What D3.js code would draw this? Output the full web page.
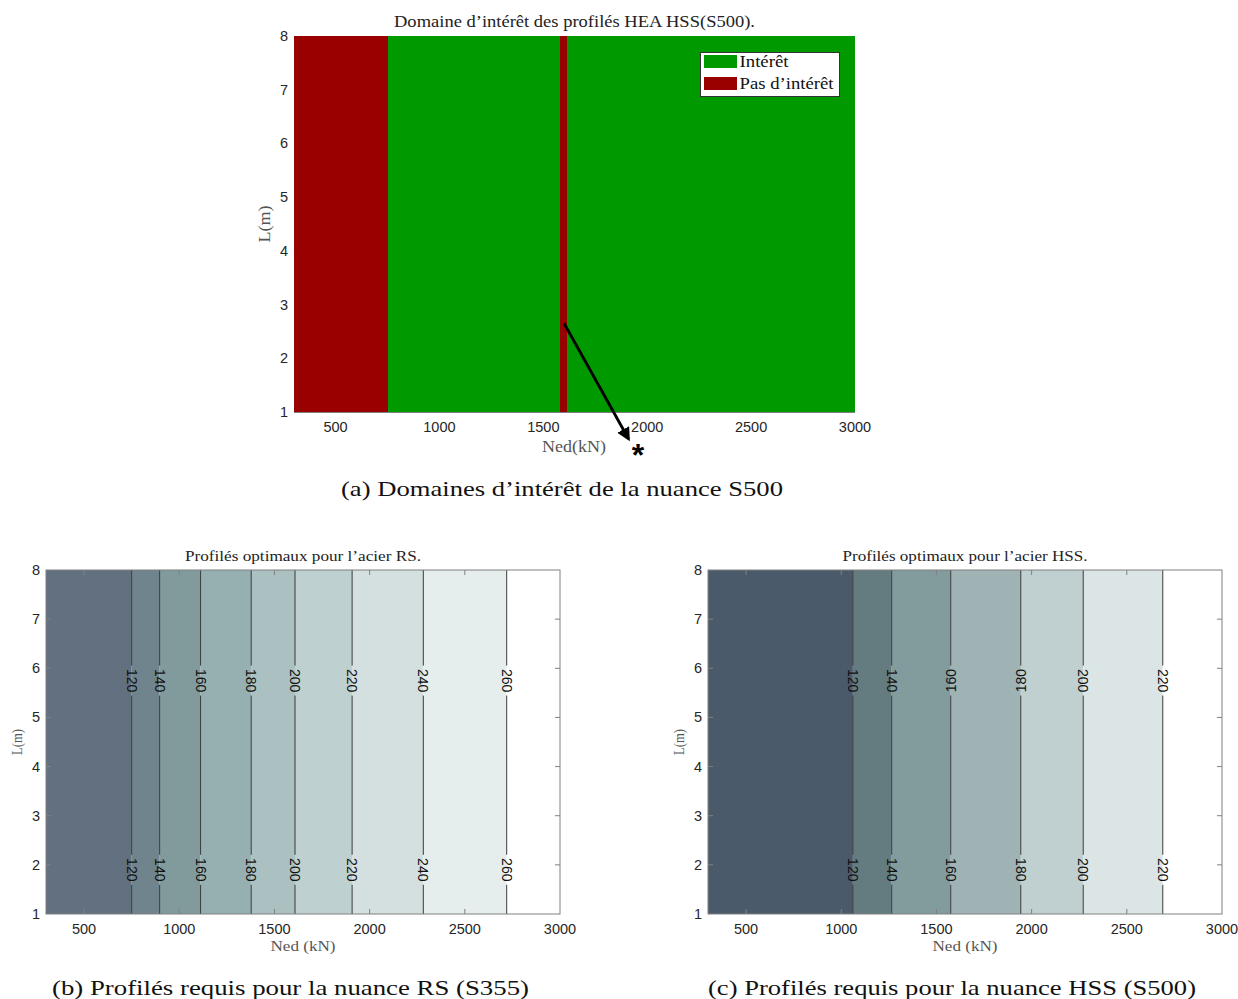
<!DOCTYPE html>
<html><head><meta charset="utf-8">
<script src="https://cdn.jsdelivr.net/npm/d3@7"></script>
<style>body{margin:0;background:#fff}</style>
</head><body>
<script>
// ---------- data ----------
const nedDomain = [300, 3000];
const lDomain = [1, 8];
const xTicks = [500, 1000, 1500, 2000, 2500, 3000];
const yTicks = [1, 2, 3, 4, 5, 6, 7, 8];

// (a) domain of interest bands
const bandStart = [300, 750, 1578, 1615];
const bandEnd   = [750, 1578, 1615, 3000];
const bandClass = ["Pas d’intérêt", "Intérêt", "Pas d’intérêt", "Intérêt"];
const legendItems = ["Intérêt", "Pas d’intérêt"];
const legendColors = ["#009900", "#990000"];
const arrowFrom = [1600, 2.65];
const arrowTo = [1910, 0.5];

// (b) RS contour levels and positions
const rsLevels = [120, 140, 160, 180, 200, 220, 240, 260];
const rsNed = [750, 897, 1112, 1378, 1608, 1908, 2282, 2720];
const rsFill = ["#627080", "#70848d", "#819a9c", "#96afb0", "#aac0c1", "#bfd0d0", "#d4dfdf", "#e6eded", "#ffffff"];

// (c) HSS contour levels and positions
const hssLevels = [120, 140, 160, 180, 200, 220];
const hssNed = [1061, 1265, 1575, 1943, 2271, 2689];
const hssFill = ["#4a5a6a", "#647c80", "#829b9c", "#9fb3b4", "#c0cfcf", "#dce5e5", "#ffffff"];
const hssTopFlip = [false, false, true, true, false, false];

const labelL = [5.75, 1.9];

// ---------- drawing ----------
const W = 1238, H = 999;
const svg = d3.select("body").append("svg").attr("width", W).attr("height", H);
const serif = "'Liberation Serif', 'DejaVu Serif', serif";
const sans = "'Liberation Sans', Arial, sans-serif";

function serifText(g, x, y, txt, size, len, fill, rot) {
  const t = g.append("text")
    .attr("transform", rot ? `translate(${x},${y}) rotate(${rot})` : null)
    .attr("x", rot ? 0 : x).attr("y", rot ? 0 : y)
    .attr("text-anchor", "middle").attr("font-family", serif).attr("font-size", size)
    .attr("fill", fill).text(txt);
  if (len) t.attr("textLength", len).attr("lengthAdjust", "spacingAndGlyphs");
  return t;
}

function axesText(g, x, y, left, right, top, bottom) {
  g.selectAll(".xt").data(xTicks).join("text")
    .attr("x", d => x(d)).attr("y", bottom + 20).attr("text-anchor", "middle")
    .attr("font-family", sans).attr("font-size", 14.5).attr("fill", "#262626").text(d => d);
  g.selectAll(".yt").data(yTicks).join("text")
    .attr("x", left - 6).attr("y", d => y(d) + 5).attr("text-anchor", "end")
    .attr("font-family", sans).attr("font-size", 14.5).attr("fill", "#262626").text(d => d);
}

function tickMarks(g, x, y, left, right, top, bottom) {
  const c = "#808080";
  xTicks.forEach(t => {
    if (t >= nedDomain[1]) return;
    g.append("line").attr("x1", x(t)).attr("x2", x(t)).attr("y1", bottom).attr("y2", bottom - 5).attr("stroke", c);
    g.append("line").attr("x1", x(t)).attr("x2", x(t)).attr("y1", top).attr("y2", top + 5).attr("stroke", c);
  });
  yTicks.forEach(t => {
    if (t <= lDomain[0] || t >= lDomain[1]) return;
    g.append("line").attr("x1", left).attr("x2", left + 5).attr("y1", y(t)).attr("y2", y(t)).attr("stroke", c);
    g.append("line").attr("x1", right).attr("x2", right - 5).attr("y1", y(t)).attr("y2", y(t)).attr("stroke", c);
  });
  g.append("rect").attr("x", left).attr("y", top).attr("width", right - left).attr("height", bottom - top)
    .attr("fill", "none").attr("stroke", c).attr("stroke-width", 1);
}

// ---- (a) ----
{
  const left = 294, right = 855, top = 36, bottom = 412;
  const x = d3.scaleLinear().domain(nedDomain).range([left, right]);
  const y = d3.scaleLinear().domain(lDomain).range([bottom, top]);
  const color = d3.scaleOrdinal().domain(legendItems).range(legendColors);
  const g = svg.append("g");
  g.selectAll(".band").data(bandStart).join("rect")
    .attr("x", (d) => x(d)).attr("y", top)
    .attr("width", (d, i) => x(bandEnd[i]) - x(d)).attr("height", bottom - top)
    .attr("fill", (d, i) => color(bandClass[i])).attr("shape-rendering", "crispEdges");
  g.append("line").attr("x1", left).attr("x2", right).attr("y1", bottom + 0.5).attr("y2", bottom + 0.5).attr("stroke", "#808080");
  axesText(g, x, y, left, right, top, bottom);
  serifText(g, 574.5, 27, "Domaine d’intérêt des profilés HEA HSS(S500).", 17.5, 361, "#222");
  serifText(g, 574, 452, "Ned(kN)", 16.5, 64, "#555");
  serifText(g, 270, 224, "L(m)", 16.5, 37, "#555", -90);
  // legend
  const lg = g.append("g");
  lg.append("rect").attr("x", 700.5).attr("y", 52.5).attr("width", 139).attr("height", 44).attr("fill", "#fff").attr("stroke", "#333");
  const legLen = [49, 94];
  legendItems.forEach((k, i) => {
    lg.append("rect").attr("x", 704).attr("y", 55 + i * 22).attr("width", 33).attr("height", 13).attr("fill", legendColors[i]);
    lg.append("text").attr("x", 739.5).attr("y", 67 + i * 22).attr("font-family", serif).attr("font-size", 17)
      .attr("textLength", legLen[i]).attr("lengthAdjust", "spacingAndGlyphs").attr("fill", "#111").text(k);
  });
  // arrow annotation
  const defs = svg.append("defs");
  defs.append("marker").attr("id", "ah").attr("viewBox", "0 0 10 10").attr("refX", 8).attr("refY", 5)
    .attr("markerWidth", 4.5).attr("markerHeight", 4.5).attr("orient", "auto")
    .append("path").attr("d", "M0,0 L10,5 L0,10 z").attr("fill", "#000");
  g.append("line").attr("x1", x(arrowFrom[0])).attr("y1", y(arrowFrom[1]))
    .attr("x2", x(arrowTo[0])).attr("y2", y(arrowTo[1]))
    .attr("stroke", "#000").attr("stroke-width", 3).attr("marker-end", "url(#ah)");
  g.append("text").attr("x", 638).attr("y", 466).attr("text-anchor", "middle")
    .attr("font-family", sans).attr("font-weight", "bold").attr("font-size", 32).attr("fill", "#000").text("*");
  serifText(g, 562, 496, "(a)  Domaines d’intérêt de la nuance S500", 21, 442, "#111");
}

function contourChart(left, right, top, bottom, levels, neds, fills, flips, title, titleLen, caption, capX, capLen) {
  const x = d3.scaleLinear().domain(nedDomain).range([left, right]);
  const y = d3.scaleLinear().domain(lDomain).range([bottom, top]);
  const g = svg.append("g");
  const edges = [nedDomain[0], ...neds, nedDomain[1]];
  g.selectAll(".fill").data(fills).join("rect")
    .attr("x", (d, i) => x(edges[i])).attr("y", top)
    .attr("width", (d, i) => x(edges[i + 1]) - x(edges[i])).attr("height", bottom - top)
    .attr("fill", d => d);
  const gap = 15;
  neds.forEach((n, i) => {
    const px = x(n);
    const ys = labelL.map(l => y(l)).sort((a, b) => a - b);
    const segs = [[top, ys[0] - gap], [ys[0] + gap, ys[1] - gap], [ys[1] + gap, bottom]];
    segs.forEach(s => g.append("line").attr("x1", px).attr("x2", px).attr("y1", s[0]).attr("y2", s[1]).attr("stroke", "#3a3a3a").attr("stroke-width", 1));
    labelL.forEach((l, j) => {
      const rot = (j === 0 && flips[i]) ? -90 : 90;
      g.append("text").attr("transform", `translate(${px},${y(l)}) rotate(${rot})`)
        .attr("text-anchor", "middle").attr("dy", "0.35em")
        .attr("font-family", sans).attr("font-size", 14).attr("fill", "#111").text(levels[i]);
    });
  });
  tickMarks(g, x, y, left, right, top, bottom);
  axesText(g, x, y, left, right, top, bottom);
  const cx = (left + right) / 2;
  serifText(g, cx, top - 9, title, 15.5, titleLen, "#222");
  serifText(g, cx, bottom + 37, "Ned (kN)", 15.5, 65, "#555");
  serifText(g, left - 24, (top + bottom) / 2, "L(m)", 15.5, 26, "#555", -90);
  serifText(g, capX, 995, caption, 21, capLen, "#111");
}

contourChart(46, 560, 570, 914, rsLevels, rsNed, rsFill, rsLevels.map(() => false),
  "Profilés optimaux pour l’acier RS.", 236, "(b)  Profilés requis pour la nuance RS (S355)", 290.5, 477);
contourChart(708, 1222, 570, 914, hssLevels, hssNed, hssFill, hssTopFlip,
  "Profilés optimaux pour l’acier HSS.", 245, "(c)  Profilés requis pour la nuance HSS (S500)", 952, 488);
</script>
</body></html>
